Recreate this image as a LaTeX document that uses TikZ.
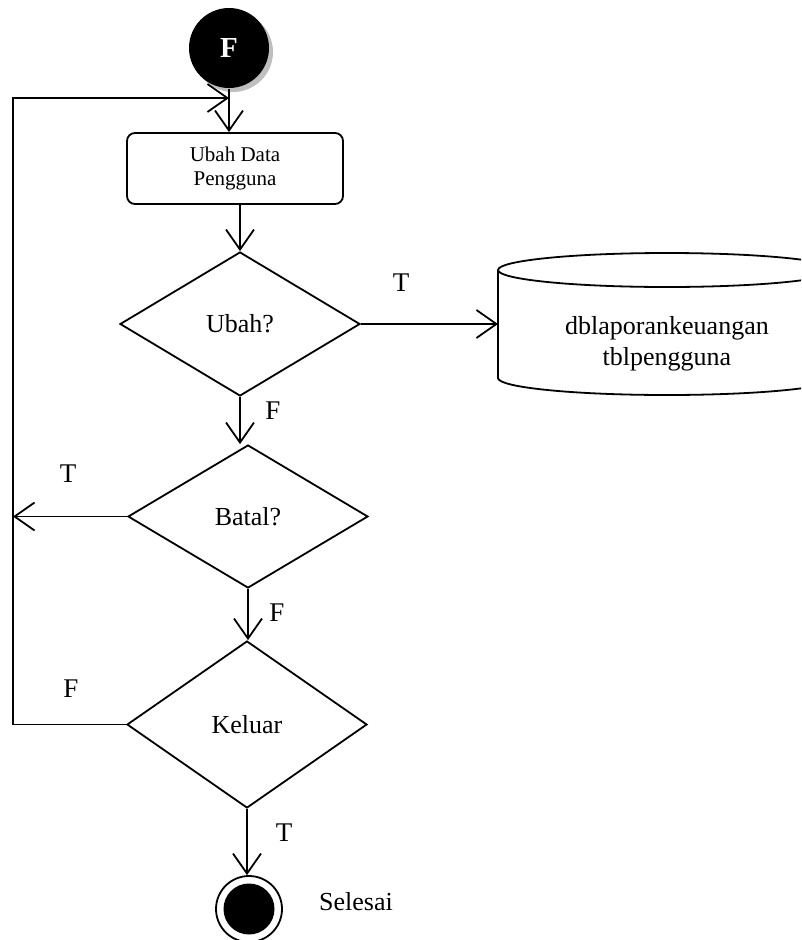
\documentclass[tikz,border=0pt]{standalone}
\usepackage{fontspec}
\setmainfont{Liberation Serif}
\usetikzlibrary{arrows.meta,shapes.geometric}
\begin{document}
\begin{tikzpicture}[x=1pt,y=-1pt,
  line width=1.8pt,
  flow/.style={-{Straight Barb[length=20pt,width=28pt]}},
  decision/.style={diamond, draw, inner sep=0pt, minimum width=240pt,
    font=\fontsize{26}{31}\selectfont},
  action/.style={draw, rounded corners=8pt, minimum width=216pt, minimum height=71pt,
    align=center, inner sep=0pt, font=\fontsize{21}{24}\selectfont},
  lbl/.style={inner sep=0pt, font=\fontsize{27}{32}\selectfont},
  txt/.style={inner sep=0pt, align=center, font=\fontsize{26}{31}\selectfont}
]
\clip (0,0) rectangle (801,940);

% start node with its soft shadow
\fill[black!25] (233,52) circle[radius=40pt];
\node[circle, fill=black, minimum size=80pt, inner sep=0pt,
  font=\fontsize{29}{32}\selectfont\bfseries, text=white] (start) at (229,48) {F};

% process box
\node[action] (edit) at (235,168.5) {Ubah Data\\Pengguna};

% decisions
\node[decision, minimum height=144pt] (ubah) at (240,324) {Ubah?};
\node[decision, minimum height=143pt] (batal) at (248,516.5) {Batal?};
\node[decision, minimum height=167pt] (keluar) at (247,724.5) {Keluar};

% database cylinder (extends past the right edge)
\draw (498,270) -- (498,378) arc[start angle=180, end angle=360, x radius=169pt, y radius=17pt] -- (836,270);
\draw (667,270) ellipse[x radius=169pt, y radius=17pt];
\coordinate (db) at (498,324);
\node[txt] (dbtext) at (667,344) {dblaporankeuangan\\tblpengguna};

% end node
\node[circle, draw, fill=white, minimum size=66pt, inner sep=0pt] (finish) at (249,909) {};
\node[circle, fill=black, minimum size=51pt, inner sep=0pt] (finishdot) at (finish.center) {};
\node[txt, anchor=center] (selesai) at (356,902) {Selesai};

% return rail on the left
\coordinate (rail) at (13,98);
\coordinate (join) at (229,98);

% connectors
\draw[flow] (start.south) -- (start.south |- edit.north);
\draw[flow] (edit.south -| ubah.north) -- (ubah.north);
\draw[flow] (ubah.east) -- (db);
\draw[flow] (ubah.south) -- (ubah.south |- batal.north);
\draw[flow] (batal.west) -- (batal.west -| rail);
\draw[flow] (batal.south) -- (batal.south |- keluar.north);
\draw[flow] (keluar.west) -| (rail) -- (join);
\draw[flow] (keluar.south) -- (keluar.south |- finish.north);

% branch labels
\node[lbl] (t1) at (401,283) {T};
\node[lbl] (f1) at (273,411) {F};
\node[lbl] (t2) at (68,474) {T};
\node[lbl] (f2) at (277,613) {F};
\node[lbl] (f3) at (71,689) {F};
\node[lbl] (t3) at (284,833) {T};
\end{tikzpicture}
\end{document}
